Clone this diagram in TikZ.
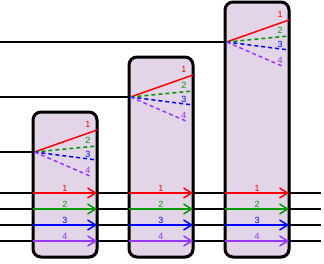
\documentclass[tikz,border=0pt]{standalone}
\usepackage{fontspec}
\setmainfont{Liberation Sans}
\usepackage{tikz}
\usetikzlibrary{arrows.meta,calc,positioning,shadows}
\definecolor{kirmizi}{HTML}{FF0000}
\definecolor{yesil}{HTML}{009900}
\definecolor{mavi}{HTML}{0000FF}
\definecolor{mor}{HTML}{9933FF}
\definecolor{kutuDolgu}{HTML}{E1D5E7}

\begin{document}
\begin{tikzpicture}[x=1pt,y=-1pt,
  kutu/.style={draw=black,line width=3pt,rounded corners=8pt,fill=kutuDolgu,
    minimum width=64pt,outer sep=0pt,inner sep=0pt,
    drop shadow={shadow xshift=1.5pt,shadow yshift=-1.5pt,opacity=0.35}},
  siyah/.style={black,line width=1.2pt},
  duz/.style={line width=1.5pt},
  kesik/.style={line width=1.5pt,dash pattern=on 4pt off 3pt},
  ok/.style={line width=1.5pt,-{Straight Barb[length=8pt,width=10pt]}},
  etiket/.style={font=\fontsize{9}{10}\selectfont,inner sep=1pt}]
\useasboundingbox (0,0) rectangle (324,263);
% ortak hatlar
\foreach \y [count=\i] in {193,209,225,241} {
  \coordinate (sol\i) at (0,\y);
  \coordinate (sag\i) at (321,\y);
  \draw[siyah] (sol\i) -- (sag\i);
}
% kutular
\foreach \n/\cx/\ust in {1/65/112,2/161/57,3/257/2} {
  \node[kutu,minimum height={257-\ust}] (k\n) at (\cx,{(257+\ust)/2}) {};
  \coordinate (g\n) at ($(k\n.north west)+(1.5,40)$);
  \coordinate (h\n) at (0,{\ust+40});
  \draw[siyah] (h\n) -- (g\n);
  \foreach \renk/\dy/\dx/\cizgi [count=\j] in
      {kirmizi/-22/0/duz,yesil/-6/0/kesik,mavi/8/0/kesik,mor/24/-7/kesik} {
    \coordinate (u\n\j) at ($(k\n.north east)+(\dx,40+\dy)$);
    \draw[\cizgi,\renk] (g\n) -- (u\n\j);
    \node[etiket,text=\renk] (e\n\j) at ($(k\n.north east)+(-9,34+\dy)$) {\j};
  }
  \foreach \renk [count=\j] in {kirmizi,yesil,mavi,mor} {
    \coordinate (a\n\j) at (k\n.west |- sol\j);
    \coordinate (b\n\j) at (k\n.east |- sol\j);
    \draw[ok,\renk] (a\n\j) -- (b\n\j) node[midway,above,etiket,text=\renk] (s\n\j) {\j};
  }
}
\end{tikzpicture}
\end{document}
